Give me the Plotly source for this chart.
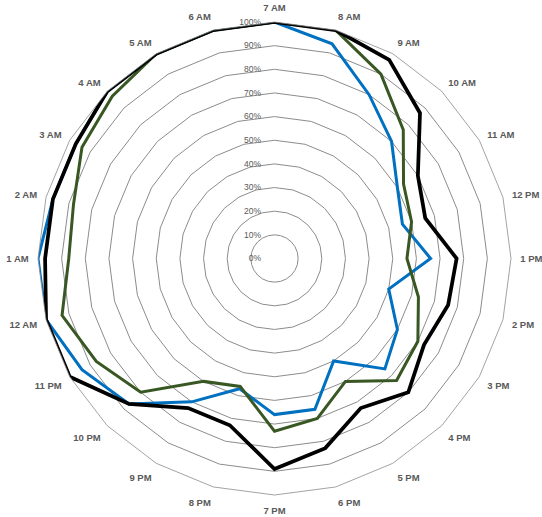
import plotly.graph_objects as go

hours = ["7 AM", "8 AM", "9 AM", "10 AM", "11 AM", "12 PM", "1 PM", "2 PM", "3 PM",
         "4 PM", "5 PM", "6 PM", "7 PM", "8 PM", "9 PM", "10 PM", "11 PM", "12 AM",
         "1 AM", "2 AM", "3 AM", "4 AM", "5 AM", "6 AM"]

blue_vals = [100, 94, 80, 70, 60, 56, 66, 50, 60, 66, 50, 66, 66, 57, 70, 87, 94, 100,
             100, 97, 97, 100, 100, 100]
green_vals = [100, 100, 90, 77, 63, 60, 56, 63, 70, 73, 60, 70, 73, 56, 60, 80, 87, 93,
              87, 88, 94, 97, 100, 100]
black_vals = [100, 100, 97, 87, 70, 66, 77, 76, 73, 80, 73, 83, 89, 73, 73, 87, 100, 100,
              97, 97, 97, 100, 100, 100]

radial_ticks = list(range(0, 101, 10))

series = [
    ("Series 3", blue_vals, "#0070C0", 3),
    ("Series 2", green_vals, "#385723", 3),
    ("Series 1", black_vals, "#000000", 3.75),
]

fig = go.Figure()
for name, vals, color, width in series:
    fig.add_trace(go.Scatterpolar(
        r=vals + [vals[0]],
        theta=hours + [hours[0]],
        mode="lines",
        name=name,
        line=dict(color=color, width=width),
        showlegend=False,
        hoverinfo="skip",
    ))

fig.update_layout(
    width=542, height=517,
    margin=dict(l=38, r=31, t=22, b=22),
    paper_bgcolor="white",
    plot_bgcolor="white",
    font=dict(family="Liberation Sans, Arial, sans-serif", color="#595959"),
    polar=dict(
        bgcolor="white",
        domain=dict(x=[0, 1], y=[0, 1]),
        gridshape="linear",
        angularaxis=dict(
            type="category",
            categoryarray=hours,
            categoryorder="array",
            direction="clockwise",
            rotation=90,
            showgrid=False,
            showline=True,
            linecolor="#8c8c8c",
            linewidth=0.8,
            ticks="outside",
            ticklen=7,
            tickcolor="rgba(0,0,0,0)",
            tickfont=dict(size=9.5, color="#595959", weight="bold"),
        ),
        radialaxis=dict(
            range=[0, 100],
            tickvals=radial_ticks,
            ticktext=[f"{v}%" for v in radial_ticks],
            showline=False,
            showgrid=True,
            gridcolor="#8c8c8c",
            gridwidth=0.8,
            ticks="outside",
            ticklen=10,
            tickcolor="rgba(0,0,0,0)",
            side="counterclockwise",
            angle=90,
            tickangle=90,
            tickfont=dict(size=8.5, color="#595959"),
        ),
    ),
)

fig.write_html(
    "out.html",
    config={"displayModeBar": False},
    post_script="document.body.style.margin='0';document.body.style.padding='0';",
)
